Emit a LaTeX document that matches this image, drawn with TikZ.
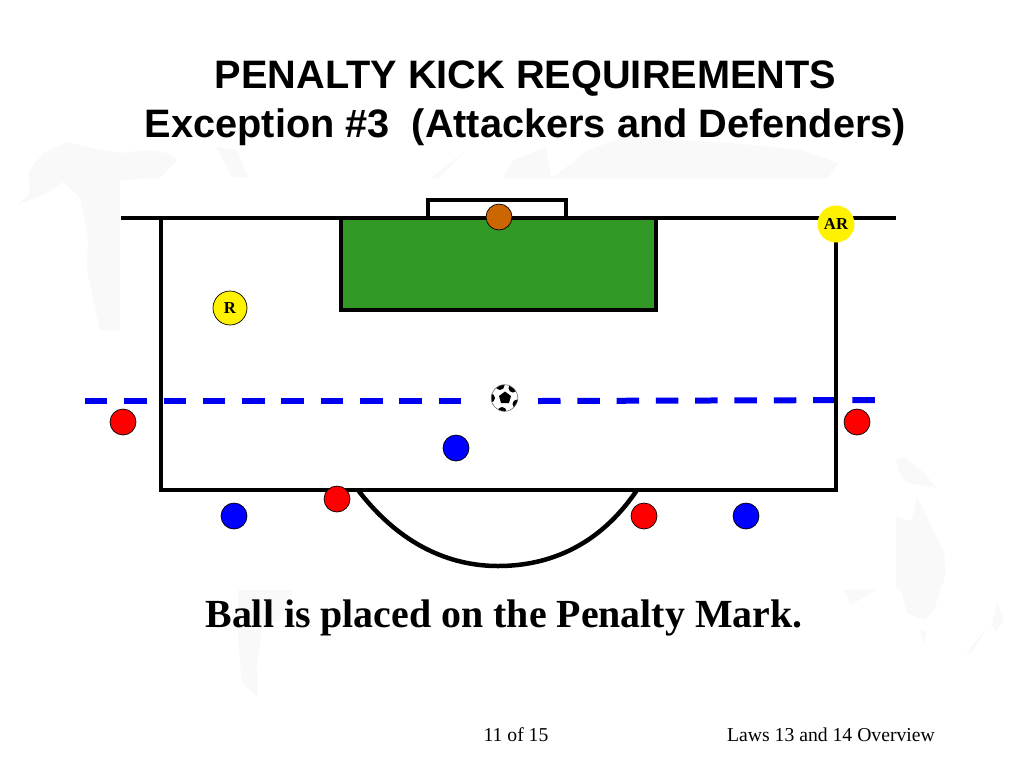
\documentclass[tikz,border=0pt]{standalone}
\usepackage{fontspec}
\setmainfont{Liberation Serif}
\newfontfamily\headfont{Liberation Sans}
\usepackage{xcolor}
\usetikzlibrary{positioning}
\definecolor{pitchgreen}{RGB}{51,153,38}
\definecolor{keeperorange}{RGB}{204,102,0}
\definecolor{dashblue}{RGB}{0,0,240}
\definecolor{mapgray}{RGB}{249,249,249}

\begin{document}
\begin{tikzpicture}[
  x=0.02cm, y=-0.02cm,
  player/.style={circle, draw=black, line width=0.4pt, inner sep=0pt, minimum size=0.52cm},
  redp/.style={player, fill=red},
  bluep/.style={player, fill=blue},
  official/.style={circle, fill=yellow, inner sep=0pt, font=\bfseries\fontsize{9.5pt}{10pt}\selectfont},
  fieldline/.style={line width=0.09cm, black},
  dashline/.style={line width=0.12cm, dashblue, dash pattern=on 0.45cm off 0.336cm},
  title/.style={font=\headfont\bfseries\fontsize{22.6pt}{28pt}\selectfont, align=center},
  foot/.style={font=\fontsize{11.2pt}{12pt}\selectfont},
]
\useasboundingbox (0,0) rectangle (1024,768);
\fill[white] (0,0) rectangle (1024,768);

%% ── Faint map behind the page ─────────────────────────────────────
\fill[mapgray] (17,205) -- (30,193) -- (28,173) -- (43,153) -- (67,142) -- (100,150) -- (120,153)
  -- (147,150) -- (167,153) -- (177,160) -- (160,178) -- (120,180) -- (120,330) -- (100,330)
  -- (87,270) -- (88,237) -- (80,197) -- (63,182) -- (47,193) -- cycle;
\fill[mapgray] (216,147) -- (237,150) -- (248,178) -- (232,177) -- cycle;
\fill[mapgray] (431,178) -- (466,150) -- (439,178) -- cycle;
\fill[mapgray] (503,178) -- (514,160) -- (546,147) -- (551,178) -- cycle;
\fill[mapgray] (551,178) -- (572,163) -- (588,150) -- (625,137) -- (732,143) -- (801,150)
  -- (838,163) -- (828,178) -- cycle;
\fill[mapgray] (238,590) -- (293,590) -- (280,620) -- (262,625) -- (257,665) -- (258,697)
  -- (242,683) -- (238,637) -- cycle;
\fill[mapgray] (896,517) -- (907,520) -- (912,520) -- (917,498) -- (924,510) -- (944,553)
  -- (946,573) -- (934,610) -- (924,620) -- (907,613) -- (902,593) -- (896,587) -- cycle;
\fill[mapgray] (896,460) -- (904,457) -- (924,473) -- (937,488) -- (907,483) -- (899,472) -- cycle;
\fill[mapgray] (844,590) -- (877,589) -- (851,605) -- cycle;
\fill[mapgray] (919,630) -- (927,632) -- (924,643) -- cycle;
\fill[mapgray] (997,602) -- (1004,620) -- (996,632) -- (992,625) -- cycle;
\fill[mapgray] (987,628) -- (971,653) -- (966,653) -- cycle;

%% ── Title ─────────────────────────────────────────────────────────
\node[title] (head) at (525.5,103) {PENALTY KICK REQUIREMENTS\\Exception \#3\ \ (Attackers and Defenders)};

%% ── Line of the ball ──────────────────────────────────────────────
\draw[dashline] (85,401) -- (465,401);
\draw[dashline] (538,401) -- (877,400);

%% ── Goal area and goal ────────────────────────────────────────────
\draw[fieldline, fill=pitchgreen] (341,218) rectangle (656,310);
\draw[line width=0.07cm] (428,218) -- (428,200) -- (566,200) -- (566,218);

%% ── Field lines ───────────────────────────────────────────────────
\draw[fieldline] (121,218) -- (896,218);
\draw[fieldline] (161,218) -- (161,490) -- (836,490) -- (836,218);
\draw[fieldline] (358,490) .. controls (400,545) and (450,566) .. (498,566)
  .. controls (550,566) and (600,545) .. (637,490);

%% ── Ball ──────────────────────────────────────────────────────────
\begin{scope}
  \clip (504.5,398) circle (13.3);
  \fill[black] (505,391.5) -- (511,396) -- (509,403) -- (501,403) -- (499,396) -- cycle;
  \foreach \px/\py in {500/385.5, 513/388, 490.5/398, 517/404, 502/411.5}
    \fill[black] (\px,\py) circle (4.5);
\end{scope}
\node[circle, draw=black!60, line width=0.3pt, inner sep=0pt, minimum size=0.532cm] (ball) at (504.5,398) {};

%% ── Players ───────────────────────────────────────────────────────
\node[player, fill=keeperorange] (keeper) at (499,217) {};
\node[redp]  (red1) at (123,422) {};
\node[redp]  (red2) at (857,422) {};
\node[redp]  (red3) at (337,499) {};
\node[redp]  (red4) at (644,516) {};
\node[bluep] (blue1) at (456,448) {};
\node[bluep] (blue2) at (234,516) {};
\node[bluep] (blue3) at (746,516) {};

%% ── Officials ─────────────────────────────────────────────────────
\node[official, draw=black, line width=0.4pt, minimum size=0.68cm] (ref) at (230,308) {R};
\node[official, minimum size=0.74cm] (assist) at (836,224) {AR};

%% ── Captions ──────────────────────────────────────────────────────
\node[font=\bfseries\fontsize{22.7pt}{25pt}\selectfont] (caption) at (504,618) {Ball is placed on the Penalty Mark.};
\node[foot] (pageno) at (516,735) {11 of 15};
\node[foot] (laws) at (831,735) {Laws 13 and 14 Overview};
\end{tikzpicture}
\end{document}
